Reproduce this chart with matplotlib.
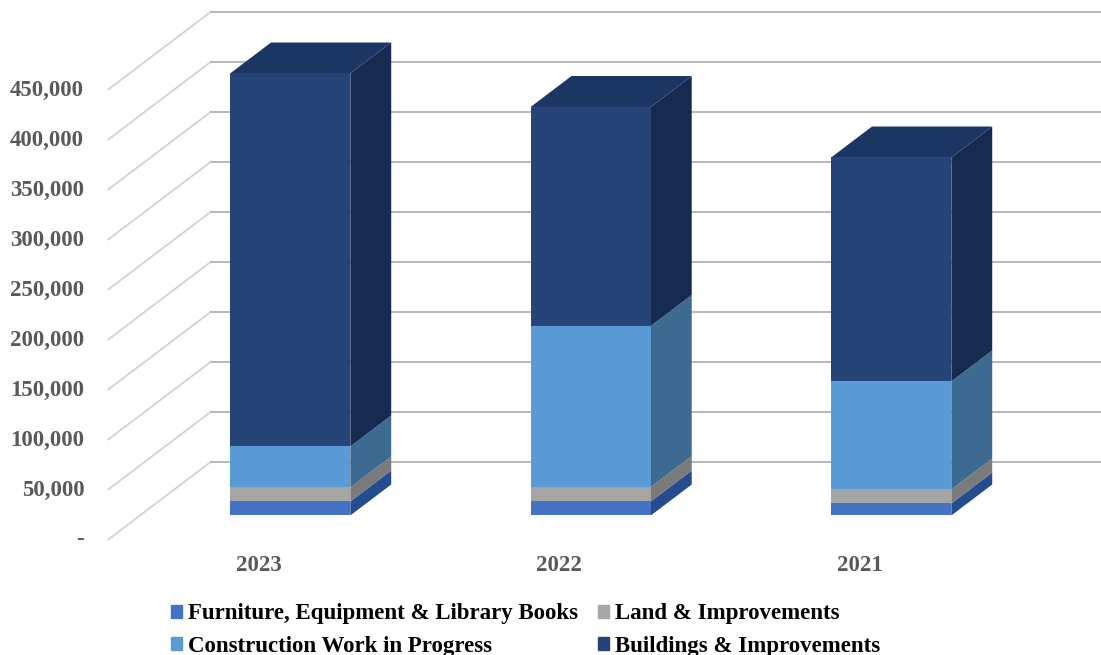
import matplotlib
matplotlib.use('Agg')
import matplotlib.pyplot as plt
from matplotlib.patches import Patch

years = ['2023', '2022', '2021']
furniture = [14000, 14000, 12000]
land = [14000, 14500, 14000]
construction = [41000, 161000, 108000]
buildings = [373000, 219000, 224000]

series_names = ['Furniture, Equipment & Library Books', 'Construction Work in Progress',
                'Land & Improvements', 'Buildings & Improvements']
ticks = [0, 50000, 100000, 150000, 200000, 250000, 300000, 350000, 400000, 450000]

front_colors = ['#4472c4', '#a5a5a5', '#5b9bd5', '#264478']
side_colors = ['#254c8f', '#7a7a7a', '#3c6a90', '#172b50']
top_color = '#1c3664'

# oblique projection: depth 1 shifts a point this far in x and in value
depth_x = 103 / 300.5
depth_y = 78000
bar_half = 0.2
bar_d0, bar_d1 = 0.308, 0.705


def project(x, v, d):
    return x + d * depth_x, v + d * depth_y


def face(ax, corners, color, z):
    pts = [project(*c) for c in corners]
    ax.fill([p[0] for p in pts], [p[1] for p in pts], color=color, lw=0, zorder=z)


plt.rcParams['font.family'] = ['Liberation Serif', 'DejaVu Serif']
plt.rcParams['font.weight'] = 'bold'

fig = plt.figure(figsize=(11.01, 6.55), dpi=100)
ax = fig.add_axes([0, 0, 1, 1])
ax.set_xlim(-258.5 / 300.5, (1101 - 258.5) / 300.5)
ax.set_ylim(-115500, 539500)
ax.axis('off')

# gridlines on the floor side and back wall
for t in ticks:
    x0, y0 = project(-0.5, t, 0)
    x1, y1 = project(-0.5, t, 1)
    x2, y2 = project(2.5, t, 1)
    ax.plot([x0, x1], [y0, y1], color='#d2d2d2', lw=1.3, zorder=1)
    ax.plot([x1, x2], [y1, y2], color='#b8b8b8', lw=1.4, zorder=1)
    ax.text(-0.5 - 24 / 300.5, t - 500, '-' if t == 0 else f'{t:,}', ha='right', va='center',
            fontsize=16.5, color='#595959')

# stacked bars
for i, year in enumerate(years):
    left, right = i - bar_half, i + bar_half
    bottom = 0
    for vals, fc, sc in zip([furniture, land, construction, buildings], front_colors, side_colors):
        top = bottom + vals[i]
        face(ax, [(left, bottom, bar_d0), (right, bottom, bar_d0),
                  (right, top, bar_d0), (left, top, bar_d0)], fc, 4)
        face(ax, [(right, bottom, bar_d0), (right, bottom, bar_d1),
                  (right, top, bar_d1), (right, top, bar_d0)], sc, 3)
        bottom = top
    face(ax, [(left, bottom, bar_d0), (right, bottom, bar_d0),
              (right, bottom, bar_d1), (left, bottom, bar_d1)], top_color, 3)
    ax.text(i, -26000, year, ha='center', va='center', fontsize=16.5, color='#595959')

handles = [Patch(color=c) for c in [front_colors[0], front_colors[2], front_colors[1], front_colors[3]]]
ax.legend(handles, series_names, ncol=2, loc='center', bbox_to_anchor=(525.5 / 1101, 1 - 630 / 655),
          frameon=False, fontsize=16.5, handlelength=0.5, handleheight=0.5, handletextpad=0.26,
          columnspacing=0.87, labelspacing=0.5, labelcolor='black', borderpad=0)

fig.savefig('out.png', dpi=100)
